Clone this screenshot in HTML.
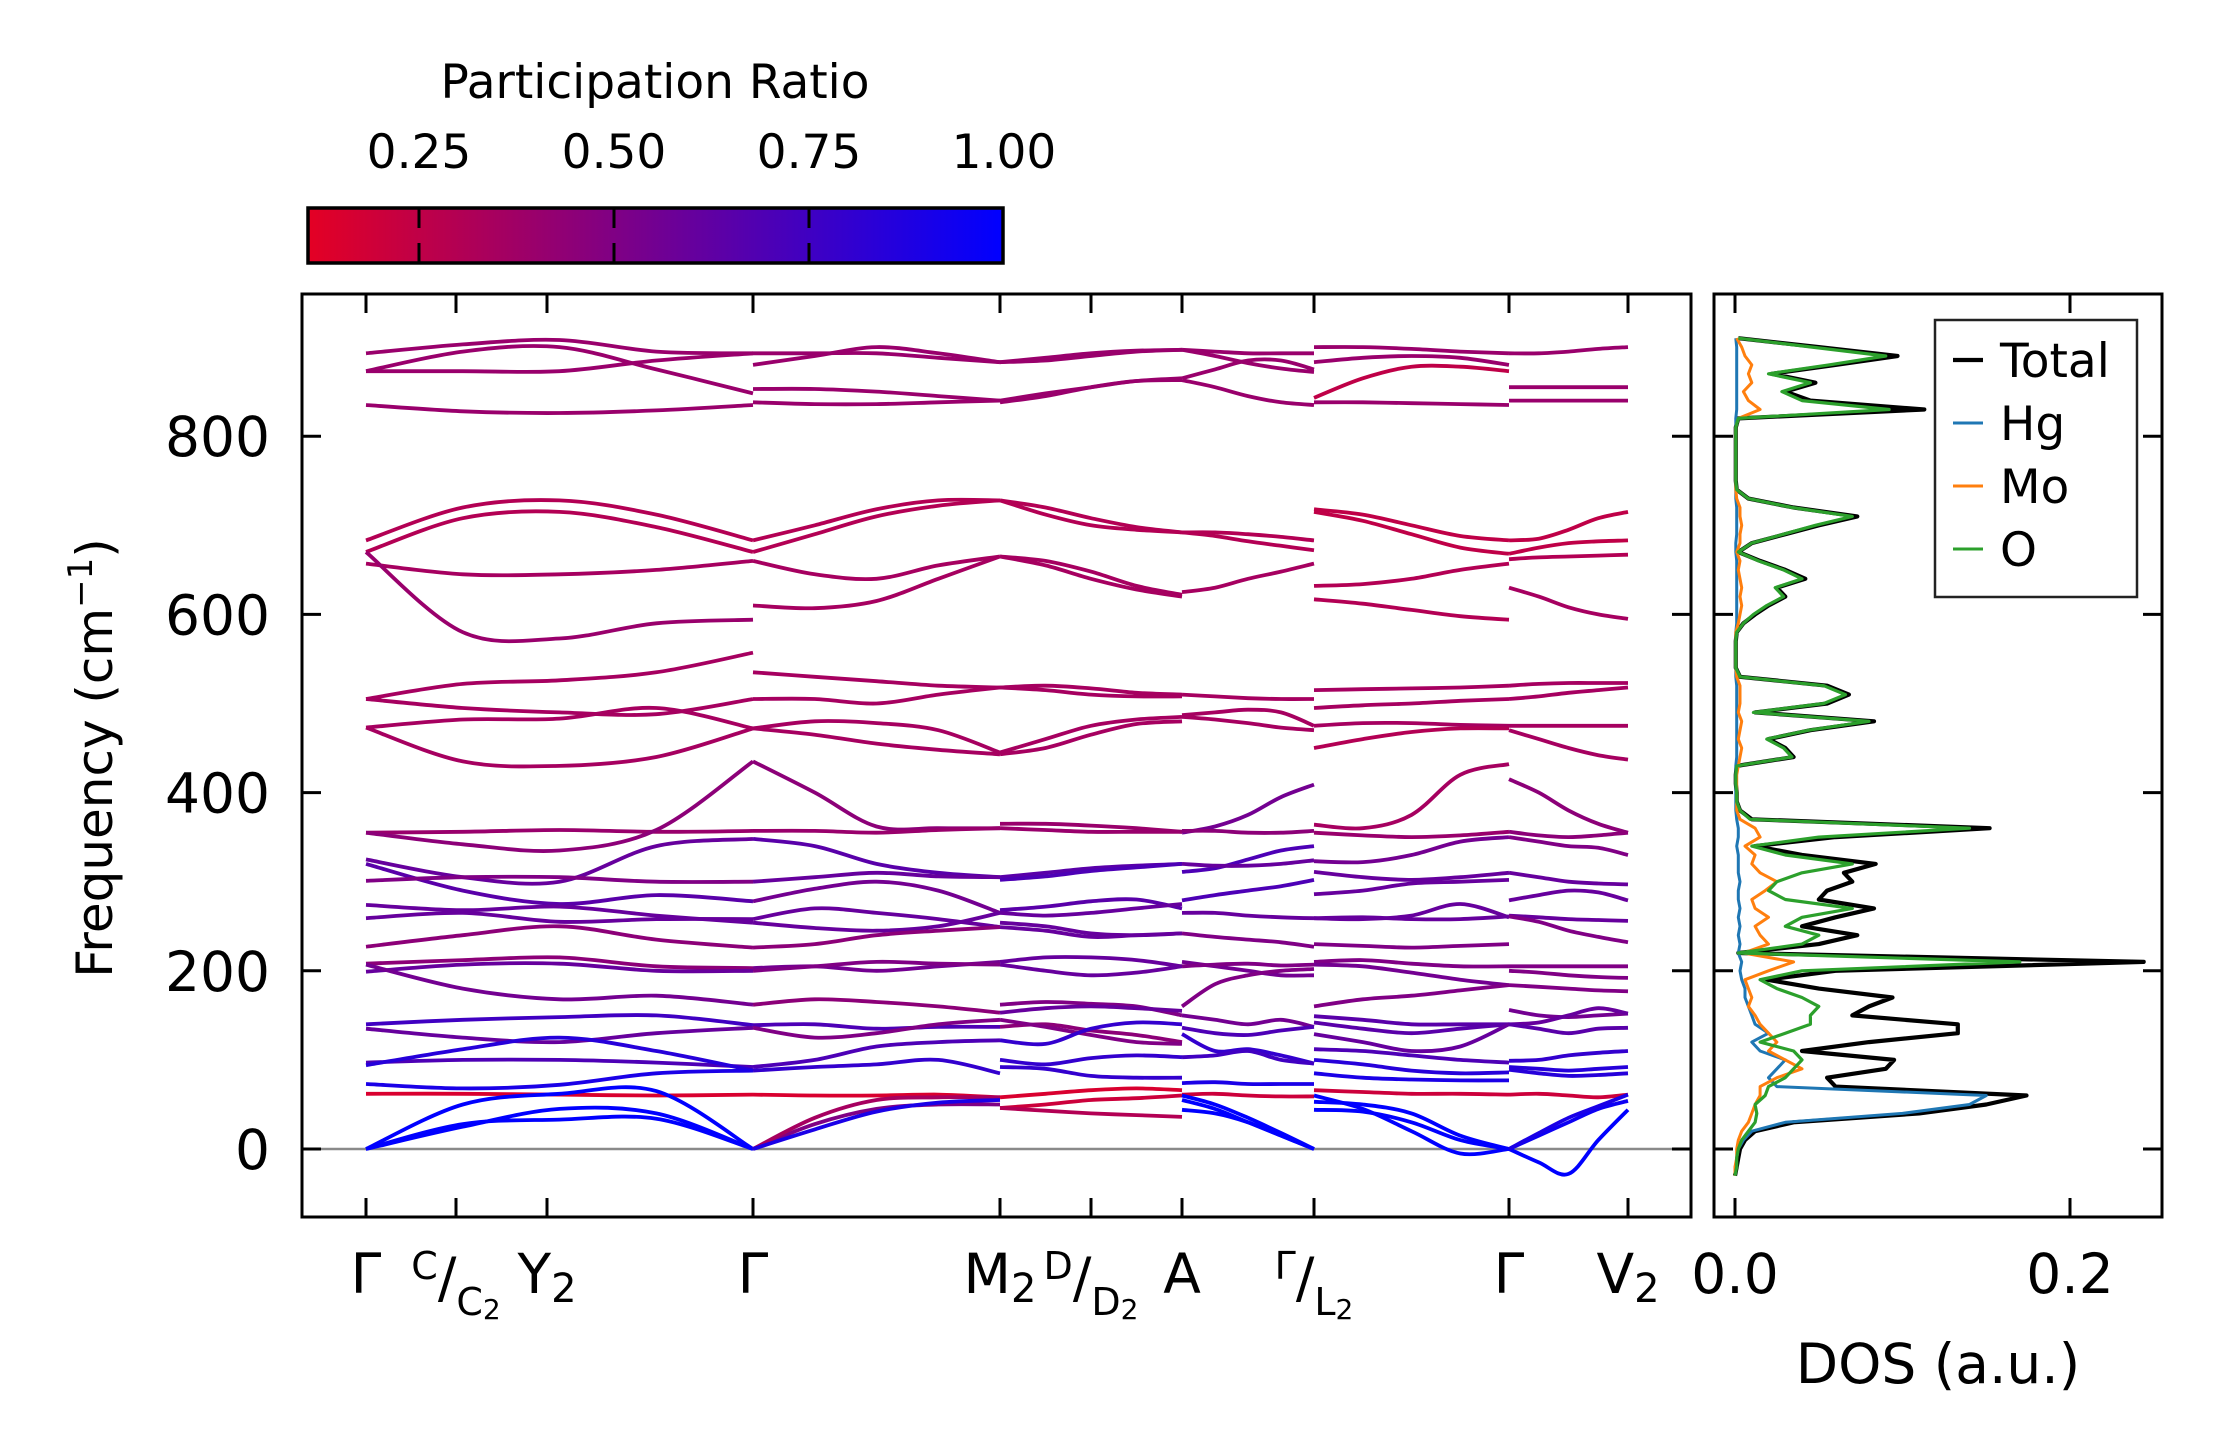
<!DOCTYPE html>
<html><head><meta charset="utf-8"><style>
html,body{margin:0;padding:0;background:#fff}
svg{display:block;font-family:"DejaVu Sans","Liberation Sans",sans-serif}
</style></head><body>
<svg id="fig" xmlns="http://www.w3.org/2000/svg" width="2222" height="1455" viewBox="0 0 2222 1455">
<defs><linearGradient id="cmap" x1="0" x2="1" y1="0" y2="0"><stop offset="0" stop-color="rgb(228,0,36)"/><stop offset="1" stop-color="rgb(0,0,255)"/></linearGradient></defs>
<g>
<text x="655" y="98" font-size="47" text-anchor="middle">Participation Ratio</text>
<rect x="308" y="208" width="695" height="55" fill="url(#cmap)" stroke="#000" stroke-width="3.5"/>
<g id="cbticks"></g>
</g>
<g id="band"></g>
<g id="dos"></g>
</svg>
<script>
// ---- colorbar data ----
const cbTicks=[0.25,0.50,0.75,1.00];
const cbTickLabels=["0.25","0.50","0.75","1.00"];
// ---- band structure data ----
const kTickPos=[0,0.90,1.81,3.87,6.34,7.25,8.16,9.48,11.43,12.62];
const kTickLabels=["Γ","C/C2","Y2","Γ","M2","D/D2","A","Γ/L2","Γ","V2"];
const freqTicks=[0,200,400,600,800];
const panelTickIdx=[[0,3],[3,4],[4,6],[6,7],[7,8],[8,9]];
// each band: [PR, f0,f1,f2,f3,f4] at 5 evenly spaced knots in the panel
const panel1=[
[0.4,893,903,908,895,893],[0.4,873,895,900,875,848],[0.4,873,873,873,885,893],[0.4,835,828,826,829,835],
[0.3,683,720,728,712,683],[0.3,670,708,715,698,670],[0.35,657,645,645,650,660],[0.4,670,580,573,590,594],
[0.35,505,522,526,535,557],[0.35,505,495,490,488,505],[0.35,473,482,483,495,472],[0.35,473,435,430,440,472],
[0.4,355,356,358,356,357],[0.45,355,342,335,358,435],[0.6,325,305,300,340,348],[0.65,320,290,275,285,278],
[0.5,301,305,305,300,300],[0.6,274,268,272,262,254],[0.6,259,265,255,258,258],[0.45,227,240,250,235,226],
[0.45,208,212,215,205,203],[0.6,199,207,208,200,200],[0.55,207,180,168,172,162],[0.75,140,145,148,150,139],
[0.6,135,125,120,130,136],[0.7,97,100,100,97,92],[0.85,94,112,125,110,88],[0.15,62,62,61,60,61],
[0.9,73,68,72,85,88],[1.0,0,50,62,65,0],[1.0,0,25,45,40,0],[1.0,0,28,33,34,0]];
const panel2=[
[0.4,893,893,893,888,883],[0.4,880,890,900,893,883],[0.4,853,853,850,845,840],[0.4,838,836,836,838,840],
[0.3,683,700,718,728,728],[0.3,670,690,710,722,728],[0.35,660,645,640,655,665],[0.35,610,607,615,640,665],
[0.35,535,530,525,520,518],[0.35,505,505,500,510,518],[0.35,472,465,455,448,443],[0.35,472,480,478,470,445],
[0.45,435,400,362,360,360],[0.4,357,357,355,358,360],[0.65,348,340,320,310,305],[0.6,300,305,310,306,305],
[0.55,278,292,300,290,265],[0.6,258,270,265,258,249],[0.6,254,248,245,250,265],[0.45,226,230,240,245,249],
[0.55,203,205,200,205,210],[0.5,200,205,210,208,207],[0.45,162,168,165,160,153],[0.7,139,140,135,137,137],
[0.5,136,125,130,140,145],[0.7,92,100,115,120,122],[0.8,88,92,95,100,85],[0.15,61,60,60,61,58],
[0.5,0,28,45,50,50],[0.35,0,35,55,58,58],[0.9,0,22,42,52,55]];
const panel3=[
[0.4,883,885,890,895,897],[0.4,883,888,893,896,897],[0.4,840,848,855,862,865],[0.4,838,845,855,862,863],
[0.3,728,720,708,698,692],[0.3,728,712,700,695,692],[0.35,665,660,648,632,622],[0.35,665,655,640,628,620],
[0.35,518,520,517,512,510],[0.35,518,515,510,508,508],[0.35,445,460,475,482,485],[0.35,443,450,465,477,480],
[0.4,365,365,363,360,356],[0.4,360,358,356,356,356],[0.65,305,310,315,318,320],[0.7,302,306,312,316,320],
[0.65,268,272,278,280,270],[0.6,265,262,265,270,275],[0.6,254,250,242,240,242],[0.6,249,245,238,240,242],
[0.6,210,215,215,212,205],[0.6,207,200,195,198,205],[0.5,162,165,163,160,150],[0.6,153,158,160,158,155],
[0.45,137,140,133,128,120],[0.5,145,137,128,120,118],[0.8,122,118,135,142,140],[0.8,100,95,102,105,103],
[0.8,92,90,82,80,80],[0.15,58,62,66,68,66],[0.2,46,50,55,57,60],[0.3,46,43,40,38,36]];
const panel4=[
[0.4,897,895,893,893,893],[0.4,897,890,882,876,872],[0.4,865,875,885,885,875],[0.4,863,855,845,838,835],
[0.3,692,692,690,687,683],[0.3,692,688,682,677,672],[0.35,625,630,640,648,657],
[0.35,510,508,506,505,505],[0.35,487,490,493,490,475],[0.35,485,482,478,473,470],
[0.55,355,362,375,395,409],[0.45,357,357,355,355,357],[0.7,311,315,325,335,340],[0.6,320,318,318,320,324],
[0.7,279,285,290,295,302],[0.6,265,265,262,260,259],[0.5,242,238,235,232,227],[0.55,210,205,200,195,195],
[0.5,205,207,208,206,207],[0.5,160,185,195,200,202],[0.55,150,145,140,145,137],[0.7,136,130,128,133,137],
[0.8,129,110,112,105,96],[0.75,103,105,110,100,96],[0.9,74,75,73,73,73],[0.2,61,62,60,59,59],
[1.0,44,40,30,15,0],[1.0,55,45,30,15,0],[1.0,60,50,35,18,0]];
const panel5=[
[0.4,900,900,898,895,893],[0.4,883,888,890,888,880],[0.25,843,865,878,878,873],[0.4,838,838,837,836,835],
[0.25,718,712,700,688,683],[0.25,715,705,690,675,668],[0.3,632,634,640,650,657],[0.3,617,612,605,598,594],
[0.35,515,516,517,518,520],[0.35,495,498,500,503,505],[0.35,475,478,478,476,475],[0.3,450,460,468,472,472],
[0.35,364,360,375,420,432],[0.4,355,352,350,352,356],[0.55,323,322,330,345,350],[0.6,311,305,302,305,310],
[0.6,286,290,298,300,302],[0.6,259,258,262,275,260],[0.6,259,260,258,258,261],[0.5,230,228,226,228,230],
[0.5,210,212,208,205,205],[0.55,207,205,198,190,184],[0.5,160,168,172,178,184],[0.65,149,145,140,140,140],
[0.65,142,135,130,135,140],[0.6,129,120,110,115,140],[0.7,112,110,105,100,97],[0.85,100,95,88,85,86],
[0.9,85,80,78,77,77],[0.2,66,64,62,62,61],[1.0,53,50,40,15,0],[1.0,44,42,30,10,0],[1.0,60,45,20,-5,0]];
const panel6=[
[0.4,893,893,895,898,900],[0.4,855,855,855,855,855],[0.4,840,840,840,840,840],
[0.25,683,685,695,708,715],[0.25,668,675,680,682,683],[0.3,662,664,665,666,667],[0.35,630,620,608,600,595],
[0.35,520,522,523,523,523],[0.35,505,508,512,515,518],[0.35,475,475,475,475,475],[0.35,470,460,450,442,437],
[0.45,415,400,380,365,355],[0.45,356,352,350,352,355],[0.5,350,345,340,338,330],[0.6,310,305,300,298,297],
[0.6,279,285,290,288,279],[0.6,262,260,258,257,256],[0.5,261,255,245,238,232],[0.5,205,205,205,205,205],
[0.5,200,198,195,193,192],[0.5,184,182,180,178,177],[0.55,156,150,148,150,152],[0.6,140,142,150,158,152],
[0.65,140,135,130,135,136],[0.8,99,100,105,108,110],[0.85,92,90,88,90,92],[0.85,89,85,82,83,85],
[0.2,61,62,60,58,61],[1.0,0,-15,-28,10,44],[0.95,0,15,30,45,54],[0.9,0,18,35,48,61]];
const panels=[panel1,panel2,panel3,panel4,panel5,panel6];
// ---- DOS data ----
const dosFreq=[-30,-20,-10,0,10,20,30,40,50,60,70,80,90,100,110,120,130,140,150,160,170,180,190,200,210,220,230,240,250,260,270,280,290,300,310,320,330,340,350,360,370,380,390,400,410,420,430,440,450,460,470,480,490,500,510,520,530,540,550,560,570,580,590,600,610,620,630,640,650,660,670,680,690,700,710,720,730,740,750,760,770,780,790,800,810,820,830,840,850,860,870,880,890,900,910];
const dosTotal=[0,0.001,0.002,0.003,0.006,0.012,0.035,0.11,0.15,0.174,0.06,0.055,0.09,0.095,0.04,0.08,0.133,0.133,0.07,0.08,0.094,0.05,0.019,0.06,0.244,0.002,0.05,0.073,0.04,0.06,0.083,0.05,0.055,0.07,0.065,0.084,0.04,0.012,0.06,0.152,0.01,0.003,0.001,0.001,0.0005,0.0005,0.001,0.035,0.03,0.02,0.045,0.083,0.012,0.055,0.068,0.055,0.003,0.0005,0.0005,0.0005,0.0005,0.001,0.005,0.012,0.02,0.03,0.025,0.042,0.03,0.015,0.002,0.01,0.03,0.05,0.073,0.035,0.008,0.001,0.0005,0.0005,0.0005,0.0005,0.0005,0.0005,0.0005,0.002,0.113,0.045,0.03,0.048,0.022,0.06,0.097,0.05,0.002];
const dosO=[0,0.001,0.001,0.002,0.004,0.008,0.012,0.013,0.012,0.018,0.02,0.03,0.035,0.04,0.035,0.015,0.03,0.045,0.045,0.05,0.04,0.025,0.015,0.04,0.17,0.002,0.04,0.05,0.03,0.04,0.07,0.03,0.02,0.025,0.04,0.07,0.03,0.01,0.05,0.14,0.009,0.003,0.001,0.001,0.0005,0.0005,0.001,0.034,0.029,0.019,0.044,0.08,0.011,0.053,0.066,0.053,0.003,0.0005,0.0005,0.0005,0.0005,0.001,0.005,0.011,0.019,0.029,0.024,0.04,0.029,0.014,0.002,0.01,0.029,0.048,0.07,0.034,0.008,0.001,0.0005,0.0005,0.0005,0.0005,0.0005,0.0005,0.0005,0.002,0.092,0.04,0.028,0.045,0.02,0.056,0.09,0.046,0.002];
const dosHg=[0,0.0005,0.001,0.002,0.005,0.01,0.03,0.1,0.14,0.15,0.025,0.02,0.025,0.03,0.015,0.01,0.02,0.012,0.01,0.008,0.006,0.006,0.004,0.003,0.004,0.002,0.003,0.002,0.003,0.002,0.003,0.002,0.002,0.003,0.002,0.002,0.002,0.001,0.002,0.002,0.001,0.0005,0.0005,0.0005,0.0005,0.0005,0.0005,0.001,0.001,0.001,0.001,0.001,0.001,0.001,0.001,0.001,0.0005,0.0005,0.0005,0.0005,0.0005,0.0005,0.001,0.001,0.001,0.001,0.001,0.001,0.001,0.001,0.0005,0.0005,0.001,0.001,0.001,0.001,0.0005,0.0005,0.0005,0.0005,0.0005,0.0005,0.0005,0.0005,0.0005,0.0005,0.001,0.001,0.001,0.001,0.001,0.001,0.001,0.001,0.0005];
const dosMo=[0,0,0.001,0.001,0.002,0.004,0.008,0.01,0.012,0.015,0.015,0.025,0.04,0.03,0.02,0.025,0.02,0.015,0.012,0.008,0.01,0.008,0.006,0.02,0.035,0.005,0.02,0.015,0.012,0.02,0.012,0.01,0.018,0.025,0.015,0.01,0.012,0.006,0.015,0.012,0.003,0.001,0.001,0.001,0.001,0.001,0.002,0.003,0.004,0.002,0.003,0.004,0.002,0.003,0.003,0.003,0.001,0.0005,0.0005,0.0005,0.0005,0.0005,0.002,0.003,0.004,0.003,0.004,0.003,0.002,0.003,0.001,0.003,0.003,0.004,0.003,0.003,0.001,0.0005,0.0005,0.0005,0.0005,0.0005,0.0005,0.0005,0.0005,0.002,0.015,0.008,0.005,0.01,0.008,0.01,0.006,0.004,0.001];
const dosTicks=[0.0,0.2];
const dosTickLabels=["0.0","0.2"];
const legendNames=["Total","Hg","Mo","O"];
const legendColors=["#000000","#1f77b4","#ff7f0e","#2ca02c"];

const NS="http://www.w3.org/2000/svg";
function mk(tag,attrs,parent){const e=document.createElementNS(NS,tag);for(const k in attrs)e.setAttribute(k,attrs[k]);parent.appendChild(e);return e;}
const X0=302,X1=1691,Y0=294,Y1=1217;
const xK=v=>366+v*100;
const yF=f=>1149-f*0.891;
const DX0=1714,DX1=2162;
const xD=v=>1735+v*1675;
const xC=v=>419+(v-0.25)*780;
function prColor(pr){let t=(pr-0.106)/0.894;t=Math.max(0,Math.min(1,t));return `rgb(${Math.round(228*(1-t))},0,${Math.round(36+219*t)})`;}

const cbg=document.getElementById('cbticks');
cbTicks.forEach((v,i)=>{
  const x=xC(v);
  if(v<1){
    const t1=mk('line',{x1:x,x2:x,y1:208,y2:228,stroke:'#000','stroke-width':3},cbg);
    
    
    const t2=mk('line',{x1:x,x2:x,y1:243,y2:263,stroke:'#000','stroke-width':3},cbg);
    
    
  }
  const tl=mk('text',{x:x,y:168,'font-size':47,'text-anchor':'middle'},cbg);
  tl.textContent=cbTickLabels[i];
  
  
});

const bg=document.getElementById('band');
const clipDef=mk('clipPath',{id:'bclip'},bg);mk('rect',{x:X0,y:Y0,width:X1-X0,height:Y1-Y0},clipDef);
const zl=mk('line',{x1:X0,x2:X1,y1:yF(0),y2:yF(0),stroke:'#8a8a8a','stroke-width':2.5},bg);


const bandsG=mk('g',{'clip-path':'url(#bclip)'},bg);


function smoothPath(pts){
  let d=`M${pts[0][0].toFixed(1)},${pts[0][1].toFixed(1)}`;
  for(let i=0;i<pts.length-1;i++){
    const p0=pts[Math.max(0,i-1)],p1=pts[i],p2=pts[i+1],p3=pts[Math.min(pts.length-1,i+2)];
    const c1=[p1[0]+(p2[0]-p0[0])/6,p1[1]+(p2[1]-p0[1])/6];
    const c2=[p2[0]-(p3[0]-p1[0])/6,p2[1]-(p3[1]-p1[1])/6];
    d+=`C${c1[0].toFixed(1)},${c1[1].toFixed(1)} ${c2[0].toFixed(1)},${c2[1].toFixed(1)} ${p2[0].toFixed(1)},${p2[1].toFixed(1)}`;
  }
  return d;
}
panels.forEach((bands,pi)=>{
  const a=kTickPos[panelTickIdx[pi][0]],b=kTickPos[panelTickIdx[pi][1]];
  bands.forEach(bd=>{
    const vals=bd.slice(1);const n=vals.length;
    const pts=vals.map((f,j)=>[xK(a+(b-a)*j/(n-1)),yF(f)]);
    const p=mk('path',{d:smoothPath(pts),fill:'none',stroke:prColor(bd[0]),'stroke-width':3.8},bandsG);
    
    
  });
});
const frame=mk('rect',{x:X0,y:Y0,width:X1-X0,height:Y1-Y0,fill:'none',stroke:'#000','stroke-width':3},bg);


kTickPos.forEach(v=>{
  const x=xK(v);
  const t=mk('path',{d:`M${x},${Y1}v-19M${x},${Y0}v19`,stroke:'#000','stroke-width':3},bg);
  
  
});
freqTicks.forEach(f=>{
  const y=yF(f);
  const t=mk('path',{d:`M${X0},${y}h19M${X1},${y}h-19`,stroke:'#000','stroke-width':3},bg);
  
  
  const l=mk('text',{x:270,y:y+20,'font-size':55,'text-anchor':'end'},bg);
  l.textContent=String(f);
  
  
});
kTickLabels.forEach((lab,i)=>{
  const x=xK(kTickPos[i]);
  const t=mk('text',{x:x,y:1293,'font-size':55,'text-anchor':'middle'},bg);
  
  
  if(lab.includes('/')){
    const [s,u]=lab.split('/');
    const sub=u.replace(/2$/,'');
    t.innerHTML=`<tspan font-size="38" dy="-14">${s}</tspan><tspan font-size="55" dy="18">/</tspan><tspan font-size="38" dy="18">${sub}</tspan><tspan font-size="28" dy="4">2</tspan>`;
  } else if(/2$/.test(lab)){
    t.innerHTML=`${lab.slice(0,-1)}<tspan font-size="40" dy="9">2</tspan>`;
  } else t.textContent=lab;
});
const yl=mk('text',{x:0,y:0,'font-size':50,'text-anchor':'middle',transform:'translate(112,758) rotate(-90)'},bg);
yl.innerHTML='Frequency (cm<tspan font-size="34" dy="-20">−1</tspan><tspan dy="20">)</tspan>';



const dg=document.getElementById('dos');
const dclip=mk('clipPath',{id:'dclip'},dg);mk('rect',{x:DX0,y:Y0,width:DX1-DX0,height:Y1-Y0},dclip);
const dl=mk('g',{'clip-path':'url(#dclip)'},dg);


const series=[dosTotal,dosHg,dosMo,dosO];
const widths=[4.2,3.0,3.0,3.2];
[0,1,2,3].forEach(si=>{
  const d=series[si].map((v,j)=>(j?'L':'M')+xD(v).toFixed(1)+','+yF(dosFreq[j]).toFixed(1)).join('');
  const p=mk('path',{d:d,fill:'none',stroke:legendColors[si],'stroke-width':widths[si],'stroke-linejoin':'round'},dl);
  
  
});
const dframe=mk('rect',{x:DX0,y:Y0,width:DX1-DX0,height:Y1-Y0,fill:'none',stroke:'#000','stroke-width':3},dg);


freqTicks.forEach(f=>{
  const y=yF(f);
  const t=mk('path',{d:`M${DX0},${y}h19M${DX1},${y}h-19`,stroke:'#000','stroke-width':3},dg);
  
  
});
dosTicks.forEach((v,i)=>{
  const x=xD(v);
  const t=mk('path',{d:`M${x},${Y1}v-19M${x},${Y0}v19`,stroke:'#000','stroke-width':3},dg);
  
  
  const l=mk('text',{x:x,y:1293,'font-size':55,'text-anchor':'middle'},dg);
  l.textContent=dosTickLabels[i];
  
  
});
const dxl=mk('text',{x:1938,y:1383,'font-size':55,'text-anchor':'middle'},dg);
dxl.textContent='DOS (a.u.)';


const lg=mk('g',{},dg);


mk('rect',{x:1935,y:320,width:202,height:277,fill:'#fff',stroke:'#222','stroke-width':2.5},lg);
legendNames.forEach((nm,i)=>{
  const y=360+i*63;
  const h=mk('line',{x1:1953,x2:1983,y1:y,y2:y,stroke:legendColors[i],'stroke-width':i?3:4.2},lg);
  
  
  const t=mk('text',{x:2000,y:y+17,'font-size':47},lg);
  t.textContent=nm;
  
  
});
</script>
</body></html>
